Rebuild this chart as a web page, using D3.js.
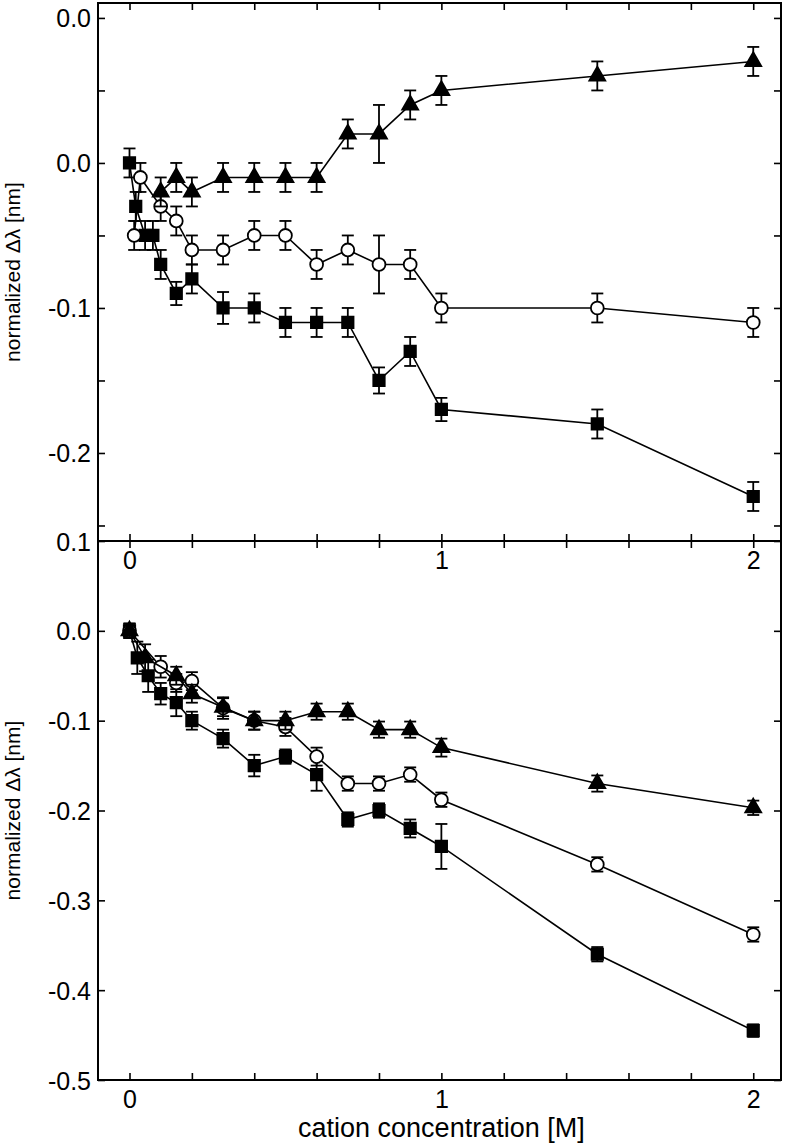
<!DOCTYPE html>
<html><head><meta charset="utf-8">
<script src="https://cdn.jsdelivr.net/npm/d3@7"></script>
<style>body{margin:0;background:#fff}svg{display:block}text{font-family:"Liberation Sans",Arial,sans-serif;fill:#000}</style>
</head><body><svg id="c" width="786" height="1143"></svg>
<script>
// ---------- data ----------
const topSquareX = [0, 0.02, 0.05, 0.075, 0.1, 0.15, 0.2, 0.3, 0.4, 0.5, 0.6, 0.7, 0.8, 0.9, 1, 1.5, 2];
const topSquareY = [0, -0.03, -0.05, -0.05, -0.07, -0.09, -0.08, -0.10, -0.10, -0.11, -0.11, -0.11, -0.15, -0.13, -0.17, -0.18, -0.23];
const topSquareE = [0.01, 0.01, 0.01, 0.01, 0.01, 0.008, 0.01, 0.011, 0.01, 0.01, 0.01, 0.01, 0.009, 0.01, 0.008, 0.01, 0.01];

const topCircleX = [0.015, 0.035, 0.1, 0.15, 0.2, 0.3, 0.4, 0.5, 0.6, 0.7, 0.8, 0.9, 1, 1.5, 2];
const topCircleY = [-0.05, -0.01, -0.03, -0.04, -0.06, -0.06, -0.05, -0.05, -0.07, -0.06, -0.07, -0.07, -0.10, -0.10, -0.11];
const topCircleE = [0.01, 0.01, 0.01, 0.01, 0.01, 0.01, 0.01, 0.01, 0.01, 0.01, 0.02, 0.01, 0.01, 0.01, 0.01];

const topTriX = [0.1, 0.15, 0.2, 0.3, 0.4, 0.5, 0.6, 0.7, 0.8, 0.9, 1, 1.5, 2];
const topTriY = [-0.02, -0.01, -0.02, -0.01, -0.01, -0.01, -0.01, 0.02, 0.02, 0.04, 0.05, 0.06, 0.07];
const topTriE = [0.01, 0.01, 0.01, 0.01, 0.01, 0.01, 0.01, 0.01, 0.02, 0.01, 0.01, 0.01, 0.01];

const botSquareX = [0, 0.025, 0.06, 0.1, 0.15, 0.2, 0.3, 0.4, 0.5, 0.6, 0.7, 0.8, 0.9, 1, 1.5, 2];
const botSquareY = [0, -0.03, -0.05, -0.07, -0.08, -0.10, -0.12, -0.15, -0.14, -0.16, -0.21, -0.20, -0.22, -0.24, -0.36, -0.445];
const botSquareE = [0.008, 0.018, 0.018, 0.012, 0.015, 0.01, 0.01, 0.012, 0.008, 0.018, 0.008, 0.008, 0.01, 0.025, 0.008, 0.007];

const botCircleX = [0, 0.1, 0.15, 0.2, 0.3, 0.4, 0.5, 0.6, 0.7, 0.8, 0.9, 1, 1.5, 2];
const botCircleY = [0, -0.04, -0.058, -0.056, -0.086, -0.10, -0.107, -0.14, -0.17, -0.17, -0.16, -0.188, -0.26, -0.338];
const botCircleE = [0.008, 0.012, 0.01, 0.01, 0.012, 0.01, 0.01, 0.01, 0.008, 0.008, 0.008, 0.008, 0.008, 0.008];

const botTriX = [0, 0.05, 0.15, 0.2, 0.3, 0.4, 0.5, 0.6, 0.7, 0.8, 0.9, 1, 1.5, 2];
const botTriY = [0, -0.03, -0.05, -0.07, -0.085, -0.10, -0.10, -0.09, -0.09, -0.11, -0.11, -0.13, -0.17, -0.197];
const botTriE = [0.008, 0.015, 0.01, 0.01, 0.01, 0.01, 0.01, 0.009, 0.009, 0.009, 0.009, 0.01, 0.009, 0.008];

const xMajorTicks = [0, 1, 2];
const xTickLabels = ["0", "1", "2"];
const xMinorTicks = [0.2, 0.4, 0.6, 0.8, 1.2, 1.4, 1.6, 1.8];
const topYTicks = [0.1, 0.0, -0.1, -0.2];
const topYTickLabels = ["0.0", "0.0", "-0.1", "-0.2"];
const topYMinorTicks = [0.05, -0.05, -0.15, -0.25];
const botYTicks = [0.1, 0.0, -0.1, -0.2, -0.3, -0.4, -0.5];
const botYTickLabels = ["0.1", "0.0", "-0.1", "-0.2", "-0.3", "-0.4", "-0.5"];

const xTitle = "cation concentration [M]";
const yTitle = "normalized \u0394\u03bb [nm]";

// ---------- layout ----------
const L = 98, R = 781, T1 = 3, B1 = 541, T2 = 541, B2 = 1080;
const svg = d3.select("#c");
const x = d3.scaleLinear().domain([-0.101, 2.089]).range([L, R]);
const y1 = d3.scaleLinear().domain([-0.2607, 0.1103]).range([B1, T1]);
const y2 = d3.scaleLinear().domain([-0.5, 0.1]).range([B2, T2]);

function zip(xs, ys, es) { return xs.map((v, i) => ({x: v, y: ys[i], e: es[i]})); }

function drawPanel(y, top, bot, yTicks, yLabels, yMinor, series) {
  const g = svg.append("g");
  const tk = 7;
  const left = g.append("g").attr("transform", `translate(${L},0)`)
    .call(d3.axisLeft(y).tickValues(yTicks).tickFormat((d, i) => yLabels[i]).tickSizeInner(-tk).tickSizeOuter(0).tickPadding(7));
  if (yMinor) g.append("g").attr("transform", `translate(${L},0)`)
    .call(d3.axisLeft(y).tickValues(yMinor).tickFormat("").tickSizeInner(-tk).tickSizeOuter(0));
  g.append("g").attr("transform", `translate(${R},0)`)
    .call(d3.axisRight(y).tickValues(yMinor ? yTicks.concat(yMinor) : yTicks).tickFormat("").tickSizeInner(-tk).tickSizeOuter(0));
  const xt = xMajorTicks.concat(xMinorTicks);
  g.append("g").attr("transform", `translate(0,${top})`)
    .call(d3.axisTop(x).tickValues(xt).tickFormat("").tickSizeInner(-tk).tickSizeOuter(0));
  g.append("g").attr("transform", `translate(0,${bot})`)
    .call(d3.axisBottom(x).tickValues(xt).tickFormat(d => { const i = xMajorTicks.indexOf(d); return i >= 0 ? xTickLabels[i] : ""; })
      .tickSizeInner(-tk).tickSizeOuter(0).tickPadding(10));
  g.selectAll(".domain").remove();
  g.selectAll(".tick line").attr("stroke", "#000").attr("stroke-width", 1.6);
  g.selectAll(".tick text").attr("font-size", 25).attr("font-family", "Liberation Sans, Arial, sans-serif").attr("fill", "#000");
  left.selectAll(".tick text").attr("dy", "0.36em");
  g.append("rect").attr("x", L).attr("y", top).attr("width", R - L).attr("height", bot - top)
    .attr("fill", "none").attr("stroke", "#000").attr("stroke-width", 2);

  const line = d3.line().x(d => x(d.x)).y(d => y(d.y));
  series.forEach(s => {
    const sg = g.append("g");
    sg.append("path").datum(s.data).attr("d", line).attr("fill", "none").attr("stroke", "#000").attr("stroke-width", 1.6);
    const eb = sg.selectAll(".eb").data(s.data).join("g");
    eb.append("line").attr("x1", d => x(d.x)).attr("x2", d => x(d.x)).attr("y1", d => y(d.y - d.e)).attr("y2", d => y(d.y + d.e))
      .attr("stroke", "#000").attr("stroke-width", 1.8);
    [1, -1].forEach(sgn => eb.append("line").attr("x1", d => x(d.x) - 6).attr("x2", d => x(d.x) + 6)
      .attr("y1", d => y(d.y + sgn * d.e)).attr("y2", d => y(d.y + sgn * d.e)).attr("stroke", "#000").attr("stroke-width", 1.8));
    sg.selectAll(".m").data(s.data).join("path")
      .attr("transform", d => `translate(${x(d.x)},${y(d.y)})`)
      .attr("d", d3.symbol().type(s.type).size(s.size)())
      .attr("fill", s.fill).attr("stroke", "#000").attr("stroke-width", 1.8);
  });
}

drawPanel(y1, T1, B1, topYTicks, topYTickLabels, topYMinorTicks, [
  {data: zip(topSquareX, topSquareY, topSquareE), type: d3.symbolSquare, size: 130, fill: "#000"},
  {data: zip(topCircleX, topCircleY, topCircleE), type: d3.symbolCircle, size: 130, fill: "#fff"},
  {data: zip(topTriX, topTriY, topTriE), type: d3.symbolTriangle, size: 110, fill: "#000"}
]);
drawPanel(y2, T2, B2, botYTicks, botYTickLabels, null, [
  {data: zip(botSquareX, botSquareY, botSquareE), type: d3.symbolSquare, size: 130, fill: "#000"},
  {data: zip(botCircleX, botCircleY, botCircleE), type: d3.symbolCircle, size: 130, fill: "#fff"},
  {data: zip(botTriX, botTriY, botTriE), type: d3.symbolTriangle, size: 110, fill: "#000"}
]);

svg.append("text").attr("x", x(1)).attr("y", 1137).attr("text-anchor", "middle").attr("font-size", 27).text(xTitle);
[(T1 + B1) / 2, (T2 + B2) / 2].forEach(cy => {
  svg.append("text").attr("transform", `translate(20,${cy}) rotate(-90)`).attr("text-anchor", "middle")
    .attr("font-size", 21).text(yTitle);
});
</script></body></html>
